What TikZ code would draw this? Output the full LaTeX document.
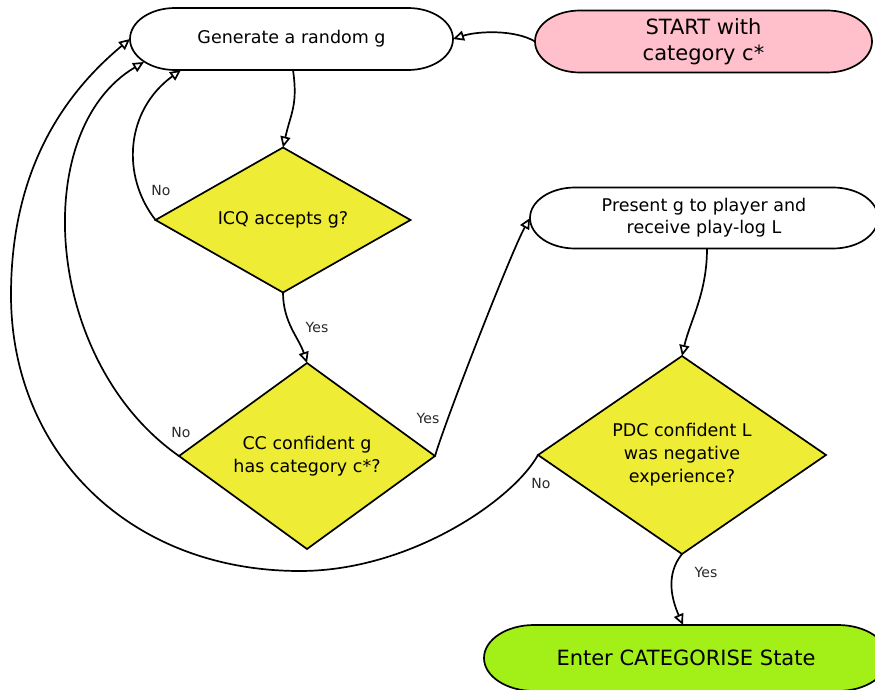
\documentclass[tikz,border=0pt]{standalone}
\usepackage{fontspec}
\setmainfont{DejaVu Sans}
\usetikzlibrary{shapes.geometric,arrows.meta,backgrounds,calc}

\definecolor{dyellow}{RGB}{238,236,52}
\definecolor{startpink}{RGB}{255,192,203}
\definecolor{endgreen}{RGB}{163,240,24}
\definecolor{labelgray}{RGB}{40,40,40}

% Outline of a terminal box with elliptical ends, drawn round a named node:
% #1 node, #2 fill colour, #3 depth of the rounded ends, #4 half height
\newcommand\capsule[4]{%
  \filldraw[capsuleline, fill=#2]
    ([xshift=#3]#1.north west) -- ([xshift=-#3]#1.north east)
    arc[start angle=90, end angle=-90, x radius=#3, y radius=#4]
    -- ([xshift=#3]#1.south west)
    arc[start angle=270, end angle=90, x radius=#3, y radius=#4] -- cycle;}

\tikzset{
  box/.style={rectangle, draw=none, outer sep=0pt, inner sep=0pt, align=center,
    font=\fontsize{17.5}{22}\selectfont, text=black},
  bigbox/.style={box, font=\fontsize{21}{26}\selectfont},
  decision/.style={diamond, draw, fill=dyellow, line width=1.7pt, inner sep=0pt,
    outer sep=0pt, align=center, font=\fontsize{17.5}{23}\selectfont, text=black},
  capsuleline/.style={line width=1.7pt},
  flow/.style={draw, line width=1.7pt, -{Triangle[open,length=11pt,width=10pt]}},
  branch/.style={font=\fontsize{14}{16}\selectfont, text=labelgray},
}

\begin{document}
\begin{tikzpicture}[x=1pt, y=-1pt]
  \useasboundingbox (0,0) rectangle (875,690);

  % steps and decisions
  \node[box, minimum width=323pt, minimum height=62pt] (gen) at (291.5,39) {Generate a random g};
  \node[bigbox, minimum width=337pt, minimum height=62pt] (start) at (703.5,41.5) {START with\\category c*};
  \node[decision, aspect=1.76, minimum width=255pt, minimum height=145pt] (icq) at (283,220) {ICQ accepts g?};
  \node[decision, aspect=1.38, minimum width=256pt, minimum height=186pt] (cc) at (307,456) {CC confident g\\has category c*?};
  \node[box, minimum width=348pt, minimum height=61pt] (present) at (704,218) {Present g to player and\\receive play-log L};
  \node[decision, aspect=1.45, minimum width=288pt, minimum height=198pt] (pdc) at (682,455) {PDC confident L\\was negative\\experience?};
  \node[bigbox, minimum width=404pt, minimum height=66pt] (enter) at (686,658) {Enter CATEGORISE State};

  \begin{scope}[on background layer]
    \capsule{gen}{white}{45pt}{31pt}
    \capsule{start}{startpink}{45pt}{31pt}
    \capsule{present}{white}{45pt}{30.5pt}
    \capsule{enter}{endgreen}{50pt}{33pt}
  \end{scope}

  % waypoints of the long return loop
  \coordinate (loopbottom) at (300,571);
  \coordinate (loopleft) at (11,295);

  % connectors
  \draw[flow] (start.west) .. controls +(-20,-12) and +(25,-8) .. (gen.east);
  \draw[flow] ([xshift=1.5pt]gen.south) .. controls +(5,35) and +(8,-35) .. (icq.north);
  \draw[flow] (icq.south) .. controls +(0,30) and +(-8,-25) .. (cc.north);
  \draw[flow] (icq.west) .. controls +(-35,-45) and +(-55,40) .. ([xshift=51pt]gen.south west);
  \draw[flow] (cc.west) .. controls +(-136,-95) and +(-115,68) .. ($(gen.south west)+(14,-8)$);
  \draw[flow] (cc.east) .. controls +(12,-40) and +(-18,32) .. (present.west);
  \draw[flow] ([xshift=3pt]present.south) .. controls +(0,45) and +(8,-35) .. (pdc.north);
  \draw[flow] (pdc.south) .. controls +(-17,21) and +(-11,-25) .. ([xshift=-3pt]enter.north);
  \draw[flow] (pdc.west) .. controls +(-25,45) and +(110,0) .. (loopbottom)
    .. controls +(-172,0) and +(0,156) .. (loopleft)
    .. controls +(0,-132) and +(-60,50) .. (gen.west);

  % branch labels
  \node[branch] (noicq) at (161,190) {No};
  \node[branch] (yesicq) at (317,327) {Yes};
  \node[branch] (nocc) at (181,432) {No};
  \node[branch] (yescc) at (428,418) {Yes};
  \node[branch] (nopdc) at (541,483) {No};
  \node[branch] (yespdc) at (706,572) {Yes};
\end{tikzpicture}
\end{document}
